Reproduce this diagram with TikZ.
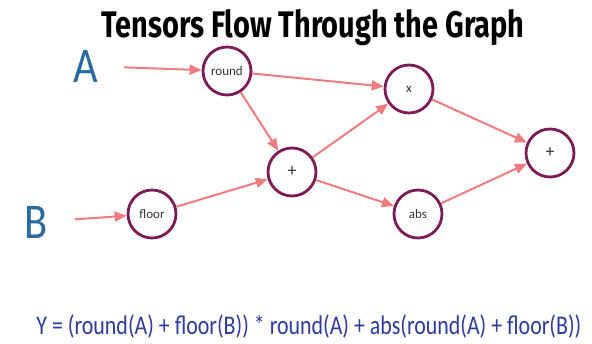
\documentclass[tikz,border=0pt]{standalone}
\usepackage{fontspec}
\setmainfont{Fira Sans}
\newfontfamily\thinfont{Carlito}
\usepackage{graphicx}
\usepackage{tikz}
\usetikzlibrary{automata,arrows.meta}
\definecolor{opborder}{HTML}{7B1C56}
\definecolor{flow}{HTML}{EE7B80}
\definecolor{inblue}{HTML}{2A6A9E}
\definecolor{eqblue}{HTML}{2E3A9C}
\definecolor{optext}{HTML}{333333}

\begin{document}
\begin{tikzpicture}[x=1pt,y=-1pt,
  every state/.style={draw=opborder,line width=2.8pt,minimum size=48pt,inner sep=0pt,
    fill=white,text=optext,font=\thinfont\fontsize{13}{15}\selectfont},
  plus/.style={font=\thinfont\fontsize{18}{20}\selectfont},
  input/.style={text=inblue,font=\thinfont\fontsize{50}{52}\selectfont},
  flowedge/.style={draw=flow,line width=2pt,-{Triangle[length=12pt,width=10pt]}}]
  \useasboundingbox (0,0) rectangle (592,343);
  \node[anchor=base] (title) at (313,37) {\resizebox{423pt}{\height}{\bfseries\fontsize{37}{42}\selectfont Tensors Flow Through the Graph}};

  \node[input] (A) at (86,66) {\scalebox{0.85}[1]{A}};
  \node[input] (B) at (36,222) {\scalebox{0.85}[1]{B}};
  \node[state] (round) at (227,71) {round};
  \node[state] (floor) at (152,214) {floor};
  \node[state,plus] (add) at (292,172) {+};
  \node[state] (mul) at (409,89) {x};
  \node[state] (abs) at (418,214) {abs};
  \node[state,plus] (sum) at (550,153) {+};

  \node[text=eqblue,anchor=base] (eq) at (309,334) {\resizebox{545pt}{\height}{\thinfont\fontsize{27}{30}\selectfont Y = (round(A) + floor(B)) * round(A) + abs(round(A) + floor(B))}};

  \path[every edge/.style={flowedge}]
  (A) edge [shorten <=22pt] (round)
  (B) edge [shorten <=24pt] (floor)
  (round)
  edge (mul)
  edge (add)
  (floor)
  edge (add)
  (add)
  edge (mul)
  edge (abs)
  (mul)
  edge (sum)
  (abs)
  edge (sum)
  ;
\end{tikzpicture}
\end{document}
